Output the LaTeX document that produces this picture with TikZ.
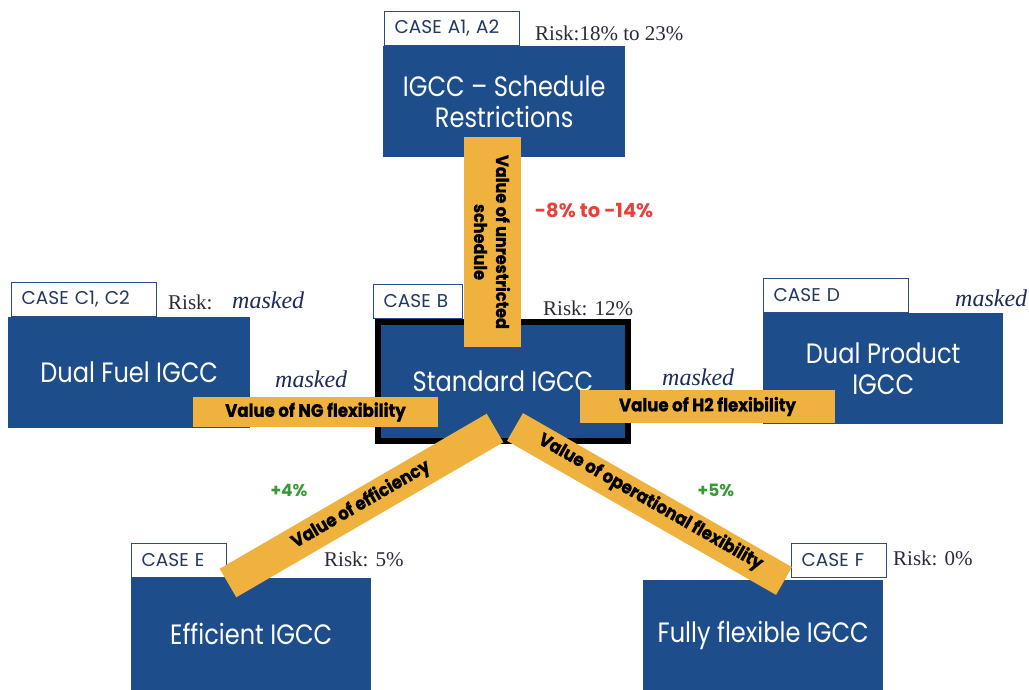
\documentclass[tikz,border=0pt]{standalone}
\usepackage{fontspec}
\setmainfont{Liberation Serif}
\newfontfamily\futura[FakeStretch=0.86]{Poppins}
\newfontfamily\tabfont{Poppins}
\newfontfamily\pctfont{Poppins}
\newfontfamily\barfont[FakeStretch=0.92,BoldFeatures={FakeBold=1.2}]{Poppins}
\definecolor{boxblue}{HTML}{1E4D8C}
\definecolor{barorange}{HTML}{F0B23E}
\definecolor{tabline}{HTML}{2B4C86}
\definecolor{tabtext}{HTML}{22385F}
\definecolor{risktext}{HTML}{2A2A3A}
\definecolor{maskcol}{HTML}{1F2A5C}
\definecolor{redpct}{HTML}{E8403A}
\definecolor{greenpct}{HTML}{3A9A3A}
\begin{document}
\begin{tikzpicture}[x=1pt,y=-1pt,
  casebox/.style={fill=boxblue, draw=none, inner sep=0pt, text=white,
    font=\futura\fontsize{28}{31}\selectfont, align=center, anchor=north west},
  tabbox/.style={fill=white, draw=tabline, line width=1.3pt, inner ysep=0pt, inner xsep=10pt,
    minimum height=34pt, align=left, anchor=south west, text=tabtext,
    font=\tabfont\fontsize{18.5}{20}\selectfont},
  risk/.style={anchor=west, inner sep=0pt, text=risktext, font=\fontsize{21}{23}\selectfont},
  masked/.style={anchor=west, inner sep=0pt, text=maskcol, font=\itshape\fontsize{24}{26}\selectfont},
  orangebar/.style={draw=barorange, line width=#1, line cap=butt},
  bartext/.style={text=black, inner sep=0pt, font=\barfont\bfseries\fontsize{18}{20}\selectfont},
  pct/.style={inner sep=0pt, font=\pctfont\bfseries\fontsize{#1}{#1}\selectfont}
]
\useasboundingbox (0,0) rectangle (1029,690);

% boxes
\node[casebox, minimum width=242pt, minimum height=111pt] (A) at (383,46) {IGCC – Schedule\\Restrictions};
\node[casebox, minimum width=242pt, minimum height=111pt] (C) at (8,317) {Dual Fuel IGCC};
\node[casebox, minimum width=250pt, minimum height=119pt, draw=black, line width=6pt] (B) at (375,319) {Standard IGCC};
\node[casebox, minimum width=240pt, minimum height=111pt] (D) at (763,313) {Dual Product\\IGCC};
\node[casebox, minimum width=240pt, minimum height=112pt] (E) at (131,578) {Efficient IGCC};
\node[casebox, minimum width=240pt, minimum height=110pt] (F) at (643,580) {Fully flexible IGCC};

% tabs
\node[tabbox, minimum width=135pt, text width=115pt] (tA) at (384,46) {CASE A1, A2};
\node[tabbox, minimum width=145pt, text width=125pt] (tC) at (11,317) {CASE C1, C2};
\node[tabbox, minimum width=89pt, text width=69pt] (tB) at (373,319) {CASE B};
\node[tabbox, minimum width=145pt, text width=125pt] (tD) at (763,313) {CASE D};
\node[tabbox, minimum width=95pt, text width=75pt] (tE) at (131,578) {CASE E};
\node[tabbox, minimum width=95pt, text width=75pt] (tF) at (791,578) {CASE F};

% risk labels
\node[risk] (rA) at (535,33) {Risk:18\% to 23\%};
\node[risk] (rC) at (168,302) {Risk:};
\node[masked] (mC) at (232,300) {masked};
\node[risk] (rB) at (543,308) {Risk: 12\%};
\node[masked] (mD) at (955,298) {masked};
\node[risk] (rE) at (324,559) {Risk: 5\%};
\node[risk] (rF) at (893,558) {Risk: 0\%};
\node[masked] (mNG) at (275,379) {masked};
\node[masked] (mH2) at (662,377) {masked};

% connector end points
\coordinate (vA) at (492,137);
\coordinate (vB) at (492,347);
\coordinate (ngC) at (193,412);
\coordinate (ngB) at (438,412);
\coordinate (hB) at (580,406.5);
\coordinate (hD) at (835,406.5);
\coordinate (eB) at (495,428);
\coordinate (eE) at (228,583);
\coordinate (fB) at (515,427);
\coordinate (fF) at (784,581);

% orange bars
\draw[orangebar=57pt] (vA) -- (vB)
  node[midway, bartext, rotate=-90, align=center, font=\barfont\bfseries\fontsize{17.5}{22}\selectfont] (tv) {Value of unrestricted\\schedule};
\draw[orangebar=30pt] (ngC) -- (ngB) node[midway, bartext] (tng) {Value of NG flexibility};
\draw[orangebar=33pt] (hB) -- (hD) node[midway, bartext] (th2) {Value of H2 flexibility};
\draw[orangebar=33pt] (eE) -- (eB) node[midway, sloped, bartext, yshift=1pt] (te) {Value of efficiency};
\draw[orangebar=32pt] (fB) -- (fF) node[midway, sloped, bartext, yshift=2pt] (tf) {Value of operational flexibility};

% percentages
\node[pct=19.5, text=redpct] (pA) at (594,210) {-8\% to -14\%};
\node[pct=17, text=greenpct] (pE) at (289,490) {+4\%};
\node[pct=17, text=greenpct] (pF) at (716,490) {+5\%};
\end{tikzpicture}
\end{document}
